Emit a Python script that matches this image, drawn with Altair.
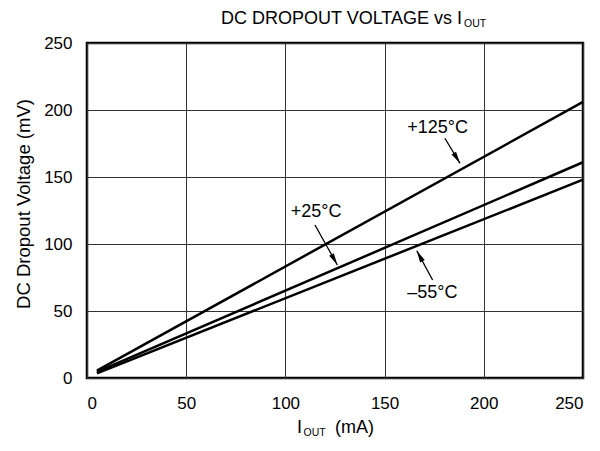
import math
import altair as alt
import pandas as pd

# ---- data ----
temps = ["+125°C", "+25°C", "−55°C"]
i_out = [5, 250]
v_125 = [5.5, 206]
v_25 = [4.5, 161]
v_m55 = [3.5, 148]

label_text = ["+125°C", "+25°C", "–55°C"]
label_x = [176.7, 115.5, 174.1]
label_y = [186.3, 123.7, 63.2]
arrow_x1 = [180.4, 114.9, 174.2]
arrow_y1 = [178.9, 114.2, 73.1]
arrow_x2 = [188.0, 126.2, 166.2]
arrow_y2 = [160.2, 84.3, 95.0]

x_ticks = [0, 50, 100, 150, 200, 250]
y_ticks = [0, 50, 100, 150, 200, 250]

title_main = "DC DROPOUT VOLTAGE vs I"
title_sub = "OUT"
x_title_main = "I"
x_title_sub = "OUT"
x_title_unit = "(mA)"
y_title = "DC Dropout Voltage (mV)"

# ---- layout ----
W, H = 496, 335
FONT = "Liberation Sans"

rows = []
for name, vals in zip(temps, [v_125, v_25, v_m55]):
    for xi, vi in zip(i_out, vals):
        rows.append({"temp": name, "i": xi, "v": vi})
lines_df = pd.DataFrame(rows)

ann = pd.DataFrame({
    "t": label_text, "lx": label_x, "ly": label_y,
    "x1": arrow_x1, "y1": arrow_y1, "x2": arrow_x2, "y2": arrow_y2,
})
ann["ang"] = [
    (math.degrees(math.atan2((b - a) * W / 250, (d - c) * H / 250)) + 360) % 360
    for a, b, c, d in zip(ann.x1, ann.x2, ann.y1, ann.y2)
]

xs = alt.Scale(domain=[0, 250], nice=False)
ys = alt.Scale(domain=[0, 250], nice=False)
xax = alt.Axis(values=x_ticks, title=None, labelPadding=17)
yax = alt.Axis(values=y_ticks, title=None, labelPadding=15)

lines = alt.Chart(lines_df).mark_line(color="black", strokeWidth=2.5).encode(
    x=alt.X("i:Q", scale=xs, axis=xax),
    y=alt.Y("v:Q", scale=ys, axis=yax),
    detail="temp:N",
)

shafts = alt.Chart(ann).mark_rule(color="black", strokeWidth=1.3).encode(
    x=alt.X("x1:Q", scale=xs, axis=xax),
    y=alt.Y("y1:Q", scale=ys, axis=yax),
    x2="x2:Q",
    y2="y2:Q",
)

heads = alt.Chart(ann).mark_point(
    shape="M0,0L-0.22,1L0.22,1Z", filled=True, color="black", size=576, opacity=1
).encode(
    x=alt.X("x2:Q", scale=xs, axis=xax),
    y=alt.Y("y2:Q", scale=ys, axis=yax),
    angle=alt.Angle("ang:Q", scale=None),
)

labels = alt.Chart(ann).mark_text(font=FONT, fontSize=18, color="black").encode(
    x=alt.X("lx:Q", scale=xs, axis=xax),
    y=alt.Y("ly:Q", scale=ys, axis=yax),
    text="t:N",
)


def txt(s, x, y, size, align, angle=0, baseline="alphabetic"):
    return alt.Chart(pd.DataFrame({"s": [s]})).mark_text(
        font=FONT, fontSize=size, color="black", align=align, baseline=baseline, angle=angle
    ).encode(x=alt.value(x), y=alt.value(y), text="s:N")


t1 = txt(title_main, 375, -19, 18, "right")
t2 = txt(title_sub, 377, -16, 10.5, "left")
xt1 = txt(x_title_main, 215, 389.7, 18, "right")
xt2 = txt(x_title_sub, 216.5, 393, 10.5, "left")
xt3 = txt(x_title_unit, 248, 389.7, 18, "left")
yt = txt(y_title, -63, 161, 18.5, "center", angle=270, baseline="middle")

chart = alt.layer(lines, shafts, heads, labels, t1, t2, xt1, xt2, xt3, yt).properties(
    width=W, height=H,
    autosize=alt.AutoSizeParams(type="none"),
    padding={"left": 79, "top": 35, "right": 9, "bottom": 60},
).configure_view(
    stroke="black", strokeWidth=2.5
).configure_axis(
    grid=True, gridColor="#333333", gridWidth=1, gridOpacity=1,
    domain=False, ticks=False,
    labelFont=FONT, labelFontSize=17, labelColor="black",
)

chart.save("out.html", embed_options={"renderer": "svg", "actions": False})
